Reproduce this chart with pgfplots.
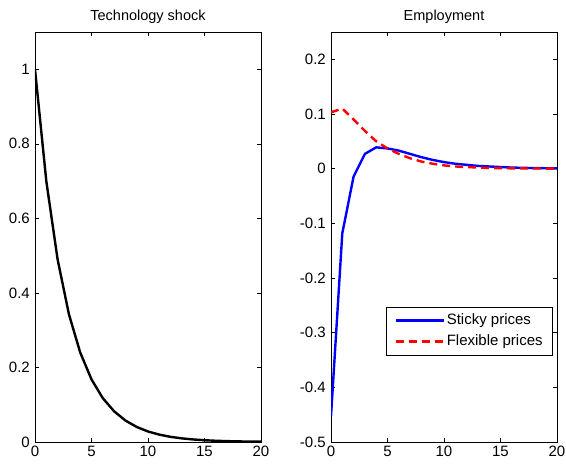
\documentclass[border=0pt]{standalone}
\usepackage{fontspec}
\setmainfont{Liberation Sans}
\usepackage{pgfplots}
\pgfplotsset{compat=1.18}
\begin{document}
\fontsize{15pt}{17pt}\selectfont
\begin{tikzpicture}
\useasboundingbox (-35pt,-23pt) rectangle (531pt,442pt);
\pgfplotsset{
  every axis/.style={
    scale only axis, width=226pt, height=410pt,
    xmin=0, xmax=20, xtick={0,5,10,15,20},
    tick align=inside, tick pos=both,
    major tick length=4pt,
    tick style={black, line width=0.6pt},
    axis line style={line width=0.8pt},
    /pgf/number format/assume math mode=true,
    ticklabel style={font=\fontsize{15pt}{17pt}\selectfont},
    xticklabel style={yshift=1pt},
    title style={font=\fontsize{14.5pt}{17pt}\selectfont, yshift=-3pt},
    yticklabel style={/pgf/number format/fixed},
  }
}
\begin{axis}[
  at={(0pt,0pt)}, anchor=south west,
  ymin=0, ymax=1.1, ytick={0,0.2,0.4,0.6,0.8,1},
  title={Technology shock},
]
\addplot[black, line width=2.4pt] coordinates {
(0,1) (1,0.7) (2,0.49) (3,0.343) (4,0.2401) (5,0.168) (6,0.1176) (7,0.0824)
(8,0.0576) (9,0.0404) (10,0.0282) (11,0.0198) (12,0.0138) (13,0.0097)
(14,0.0068) (15,0.0047) (16,0.0033) (17,0.0023) (18,0.0016) (19,0.0011) (20,0.0008)};
\end{axis}
\begin{axis}[
  at={(296pt,0pt)}, anchor=south west,
  ymin=-0.5, ymax=0.25, ytick={-0.5,-0.4,-0.3,-0.2,-0.1,0,0.1,0.2},
  yticklabels={-0.5,-0.4,-0.3,-0.2,-0.1,0,0.1,0.2},
  title={Employment},
  legend style={at={(0.982,0.33)}, anchor=north east, draw=black, line width=0.6pt,
    font=\fontsize{15pt}{17pt}\selectfont, inner xsep=8pt, inner ysep=5pt, row sep=4pt,
    cells={anchor=west}},
  legend image code/.code={\draw[#1] (0pt,0pt) -- (48pt,0pt);},
]
\addplot[blue, line width=2.4pt] coordinates {
(0,-0.453) (1,-0.118) (2,-0.0145) (3,0.027) (4,0.039) (5,0.037) (6,0.033)
(7,0.027) (8,0.021) (9,0.016) (10,0.012) (11,0.009) (12,0.007) (13,0.005)
(14,0.004) (15,0.003) (16,0.002) (17,0.0015) (18,0.001) (19,0.0008) (20,0.0006)};
\addlegendentry{Sticky prices}
\addplot[red, line width=2.4pt, dash pattern=on 8pt off 5pt] coordinates {
(0,0.103) (1,0.11) (2,0.09) (3,0.069) (4,0.05) (5,0.037) (6,0.027)
(7,0.019) (8,0.013) (9,0.009) (10,0.006) (11,0.004) (12,0.003) (13,0.002)
(14,0.0013) (15,0.0009) (16,0.0006) (17,0.0004) (18,0.0003) (19,0.0002) (20,0.0001)};
\addlegendentry{Flexible prices}
\end{axis}
\end{tikzpicture}
\end{document}
